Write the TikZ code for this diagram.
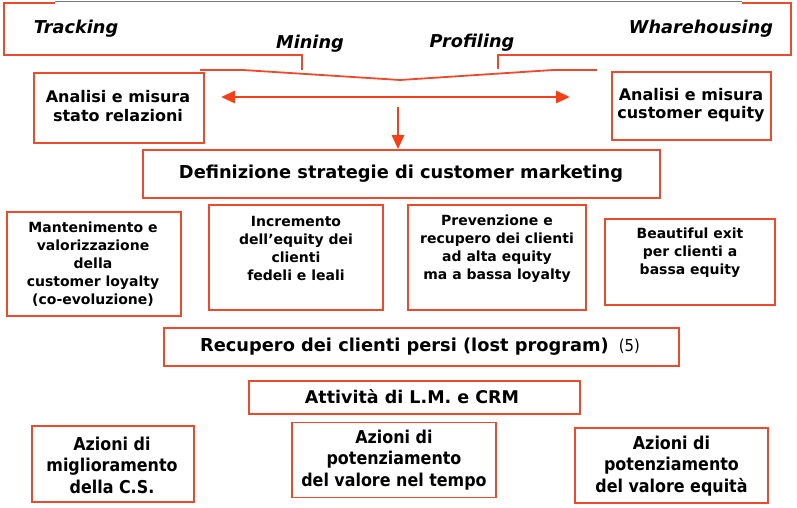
\documentclass[tikz,border=0pt]{standalone}
\usepackage{fontspec}
\setmainfont{DejaVu Sans}
\newfontfamily\condfont{DejaVu Sans Condensed}
\usetikzlibrary{arrows.meta}
\definecolor{boxred}{RGB}{236,74,44}
\definecolor{arrred}{RGB}{244,64,24}
\definecolor{topgray}{RGB}{120,120,120}
\tikzset{
  box/.style={draw=boxred, line width=1.7pt, inner sep=0pt, fill=white},
  txt/.style={align=center, inner sep=0pt, font=\bfseries\fontsize{14}{18}\selectfont},
  ctxt/.style={align=center, inner sep=0pt, font=\condfont\bfseries\fontsize{17.7}{21.5}\selectfont},
  toplbl/.style={inner sep=0pt, font=\bfseries\itshape\fontsize{17.7}{20}\selectfont},
  arr/.style={draw=arrred, line width=2.8pt, -{Triangle[length=14pt,width=12pt]}},
  banner/.style={draw=boxred, line width=1.8pt, line join=miter},
}
\begin{document}
\begin{tikzpicture}[x=1pt,y=-1pt]
\useasboundingbox (0,0) rectangle (797,507);
% banner
\draw[banner] (55,3) -- (4,3) -- (4,55) -- (302,55) -- (302,70);
\draw[banner] (742,3) -- (791,3) -- (791,55) -- (498,55) -- (498,69);
\draw[banner] (200,70) -- (243,70) -- (400,80) -- (553,70) -- (597,70);
\draw[topgray, line width=1.4pt] (55,1.5) -- (742,1.5);
\node[toplbl] (track) at (76,29) {Tracking};
\node[toplbl] (mine) at (310,43.5) {Mining};
\node[toplbl] (prof) at (472,43) {Profiling};
\node[toplbl] (wh) at (701,29) {Wharehousing};
% top boxes
\node[box, minimum width=170pt, minimum height=70pt] (an1) at (119,108) {};
\node[txt, font=\bfseries\fontsize{16}{19.5}\selectfont] (an1t) at (118,106) {Analisi e misura\\stato relazioni};
\node[box, minimum width=159pt, minimum height=68pt] (an2) at (691.5,106) {};
\node[txt, font=\bfseries\fontsize{16}{18}\selectfont] (an2t) at (691,105) {Analisi e misura\\customer equity};
\coordinate (la) at (221,97);
\coordinate (ra) at (570,97);
\draw[arr, {Triangle[length=14pt,width=12pt]}-{Triangle[length=14pt,width=12pt]}] (la) -- (ra);
\node[box, minimum width=517pt, minimum height=48pt] (def) at (401.5,174) {};
\node[txt, font=\bfseries\fontsize{17.8}{20}\selectfont] (deft) at (401,174) {Definizione strategie di customer marketing};
\coordinate (dtop) at (398,107);
\draw[arr] (dtop) -- (dtop |- def.north);
% middle boxes
\node[box, minimum width=174pt, minimum height=104pt] (m1) at (94,264) {};
\node[txt] (m1t) at (93,264) {Mantenimento e\\valorizzazione\\della\\customer loyalty\\(co-evoluzione)};
\node[box, minimum width=174pt, minimum height=105pt] (m2) at (296,257.5) {};
\node[txt] (m2t) at (296,248.5) {Incremento\\dell’equity dei\\clienti\\fedeli e leali};
\node[box, minimum width=178pt, minimum height=105pt] (m3) at (497,257.5) {};
\node[txt] (m3t) at (497,249) {Prevenzione e\\recupero dei clienti\\ad alta equity\\ma a bassa loyalty};
\node[box, minimum width=170pt, minimum height=86pt] (m4) at (690,262) {};
\node[txt] (m4t) at (690,253) {Beautiful exit\\per clienti a\\bassa equity};
% lower bars
\node[box, minimum width=515pt, minimum height=38pt] (rec) at (421.5,347) {};
\node[txt, font=\bfseries\fontsize{17.8}{20}\selectfont] (rect) at (420,347) {Recupero dei clienti persi (lost program)\hspace{10pt}{\condfont\mdseries\fontsize{16.5}{20}\selectfont(5)}};
\node[box, minimum width=331pt, minimum height=33pt] (att) at (414.5,397.5) {};
\node[txt, font=\bfseries\fontsize{17.5}{20}\selectfont] (attt) at (412,397) {Attività di L.M. e CRM};
% bottom boxes
\node[box, minimum width=162pt, minimum height=76pt] (az1) at (113,464) {};
\node[ctxt] (az1t) at (112,465) {Azioni di\\miglioramento\\della C.S.};
\node[box, minimum width=204pt, minimum height=75pt] (az2) at (394,460) {};
\node[ctxt] (az2t) at (394,460) {Azioni di\\potenziamento\\del valore nel tempo};
\node[box, minimum width=193pt, minimum height=75pt] (az3) at (671.5,465.5) {};
\node[ctxt] (az3t) at (671.5,466) {Azioni di\\potenziamento\\del valore equità};
\end{tikzpicture}
\end{document}
